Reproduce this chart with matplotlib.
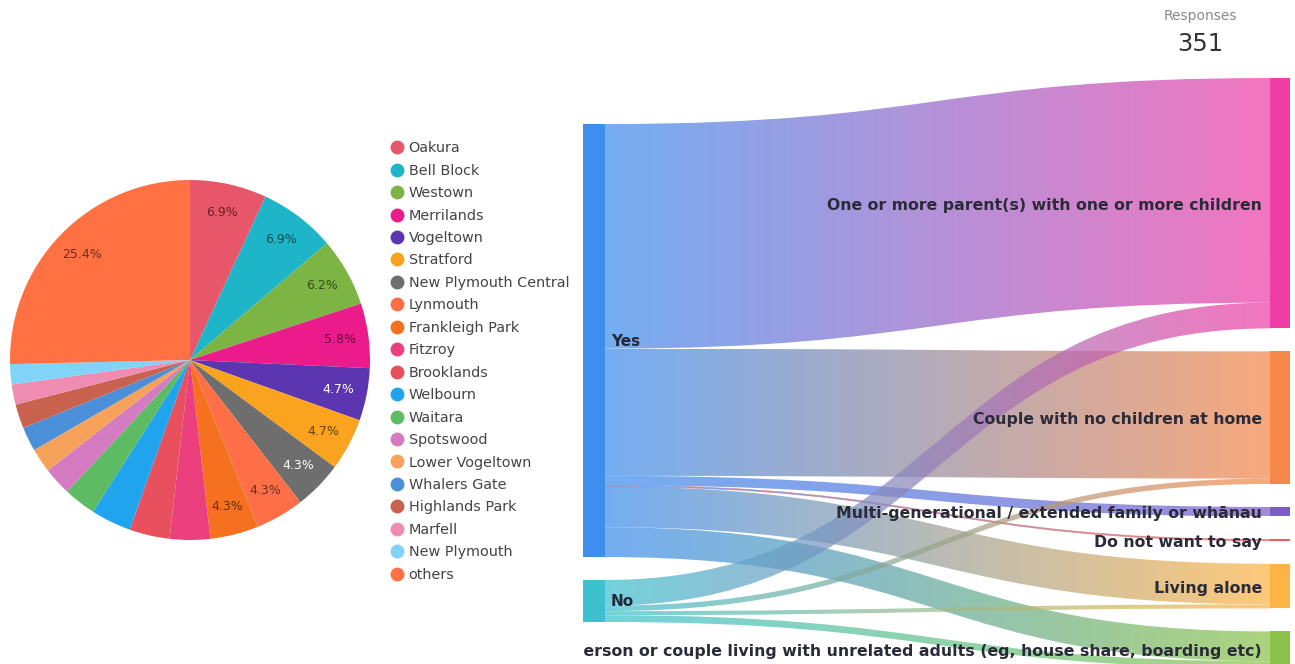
import numpy as np
import matplotlib
matplotlib.use("Agg")
import matplotlib.pyplot as plt
from matplotlib.path import Path
from matplotlib.patches import PathPatch, Rectangle
from matplotlib.lines import Line2D
from matplotlib.colors import to_rgb

# ---- pie data (suburb counts) ----
suburbs = ['Oakura', 'Bell Block', 'Westown', 'Merrilands', 'Vogeltown', 'Stratford',
           'New Plymouth Central', 'Lynmouth', 'Frankleigh Park', 'Fitzroy', 'Brooklands',
           'Welbourn', 'Waitara', 'Spotswood', 'Lower Vogeltown', 'Whalers Gate',
           'Highlands Park', 'Marfell', 'New Plymouth', 'others']
suburb_counts = [19, 19, 17, 16, 13, 13, 12, 12, 12, 10, 10, 10, 8, 7, 6, 6, 6, 5, 5, 70]
suburb_colors = ['#E8566A', '#1FB5C9', '#7CB544', '#EC1B8C', '#5C36B0', '#F9A31F',
                 '#6E6E6E', '#FF6F47', '#F5701F', '#EC3F7E', '#E8505E', '#20A4EE',
                 '#5DBB63', '#D47BC2', '#F7A25A', '#4B8FD8', '#C9614F', '#F08CB2',
                 '#7FD4F8', '#FF7043']

# ---- sankey data ----
sources = ['Yes', 'No']
source_colors = ['#3E8EED', '#3DC1CE']
targets = ['One or more parent(s) with one or more children',
           'Couple with no children at home',
           'Multi-generational / extended family or wh\u0101nau',
           'Do not want to say',
           'Living alone',
           'Single person or couple living with unrelated adults (eg, house share, boarding etc)']
target_colors = ['#EF3FA6', '#F5874A', '#7C5CCD', '#F05A5A', '#FCB445', '#8BC34A']
yes_flows = [166, 94, 7, 1, 30, 22]
no_flows = [19, 4, 0, 0, 3, 5]
responses = 351

W, H = 1295, 664
fig = plt.figure(figsize=(W / 100, H / 100), dpi=100)

# ---------------- pie ----------------
ax_pie = fig.add_axes([10 / W, 124 / H, 360 / W, 360 / H])


def fmt(p):
    return f'{p:.1f}%' if p >= 4 else ''


wedges, _, autotexts = ax_pie.pie(suburb_counts, colors=suburb_colors, startangle=90,
                                  counterclock=False, autopct=fmt, pctdistance=0.84,
                                  textprops={'fontsize': 9})
for i, t in enumerate(autotexts):
    if suburbs[i] in ('Vogeltown', 'New Plymouth Central'):
        t.set_color('white')
    else:
        t.set_color(tuple(np.array(to_rgb(suburb_colors[i])) * 0.42))
ax_pie.set_xlim(-1, 1)
ax_pie.set_ylim(-1, 1)

handles = [Line2D([], [], marker='o', linestyle='', markersize=10, color=c,
                  markeredgewidth=0) for c in suburb_colors]
fig.legend(handles, suburbs, loc='upper left', bbox_to_anchor=(384 / W, 1 - 134 / H),
           frameon=False, fontsize=10.4, labelspacing=0.585, handlelength=0.8,
           handletextpad=0.4, borderpad=0, labelcolor='#444444')

# ---------------- sankey ----------------
ax = fig.add_axes([583 / W, 0, (W - 583) / W, 1])
ax.set_xlim(583, W)
ax.set_ylim(H, 0)
ax.axis('off')

scale = 1.353
gap = 23
center = 373
xl0, xl1 = 583, 605
xr0, xr1 = 1270, 1290
alpha = 0.72

flows = np.array([yes_flows, no_flows], dtype=float)
left_h = flows.sum(axis=1) * scale
right_h = flows.sum(axis=0) * scale
left_top = center - (left_h.sum() + gap * (len(left_h) - 1)) / 2
right_top = center - (right_h.sum() + gap * (len(right_h) - 1)) / 2
left_y = left_top + np.concatenate([[0], np.cumsum(left_h + gap)[:-1]])
right_y = right_top + np.concatenate([[0], np.cumsum(right_h + gap)[:-1]])


def draw_link(y0a, y0b, y1a, y1b, c0, c1):
    xm = (xl1 + xr0) / 2
    verts = [(xl1, y0a), (xm, y0a), (xm, y1a), (xr0, y1a),
             (xr0, y1b), (xm, y1b), (xm, y0b), (xl1, y0b), (xl1, y0a)]
    codes = [Path.MOVETO, Path.CURVE4, Path.CURVE4, Path.CURVE4,
             Path.LINETO, Path.CURVE4, Path.CURVE4, Path.CURVE4, Path.CLOSEPOLY]
    patch = PathPatch(Path(verts, codes), facecolor='none', edgecolor='none')
    ax.add_patch(patch)
    g = np.linspace(0, 1, 256)[:, None]
    rgba = np.zeros((1, 256, 4))
    rgba[0, :, :3] = (1 - g) * np.array(to_rgb(c0)) + g * np.array(to_rgb(c1))
    rgba[0, :, 3] = alpha
    ymin, ymax = min(y0a, y1a), max(y0b, y1b)
    im = ax.imshow(rgba, extent=[xl1, xr0, ymax, ymin], aspect='auto',
                   interpolation='bilinear', zorder=1)
    im.set_clip_path(patch)
    if (y0b - y0a) < 2:
        # hairline flows: thin edge so they stay visible
        patch.set_edgecolor(c1)
        patch.set_linewidth(0.5)
        patch.set_alpha(0.6)


# outgoing links stacked by target, incoming links stacked by source
out_pos = {}
for i in range(len(sources)):
    y = left_y[i]
    for j in range(len(targets)):
        out_pos[(i, j)] = y
        y += flows[i, j] * scale
in_pos = {}
for j in range(len(targets)):
    y = right_y[j]
    for i in range(len(sources)):
        in_pos[(i, j)] = y
        y += flows[i, j] * scale

for i in range(len(sources)):
    for j in range(len(targets)):
        v = flows[i, j]
        if v <= 0:
            continue
        h = v * scale
        draw_link(out_pos[(i, j)], out_pos[(i, j)] + h, in_pos[(i, j)], in_pos[(i, j)] + h,
                  source_colors[i], target_colors[j])

for i, name in enumerate(sources):
    ax.add_patch(Rectangle((xl0, left_y[i]), xl1 - xl0, left_h[i], color=source_colors[i],
                           zorder=3, lw=0))
    ax.text(xl1 + 6, left_y[i] + left_h[i] / 2 + 1, name, ha='left', va='center',
            fontsize=11, fontweight='bold', color='#23283A', zorder=5)

for j, name in enumerate(targets):
    ax.add_patch(Rectangle((xr0, right_y[j]), xr1 - xr0, max(right_h[j], 1.2),
                           color=target_colors[j], zorder=3, lw=0))
    ax.text(xr0 - 8, right_y[j] + right_h[j] / 2 + 2, name, ha='right', va='center',
            fontsize=11.3, fontweight='bold', color='#2A2A38', zorder=5, clip_on=True)

ax.text(1200, 16, 'Responses', ha='center', va='center', fontsize=10, color='#8A8A8A')
ax.text(1200, 44, str(responses), ha='center', va='center', fontsize=17.5, color='#333333')

fig.savefig('out.png', dpi=100)
